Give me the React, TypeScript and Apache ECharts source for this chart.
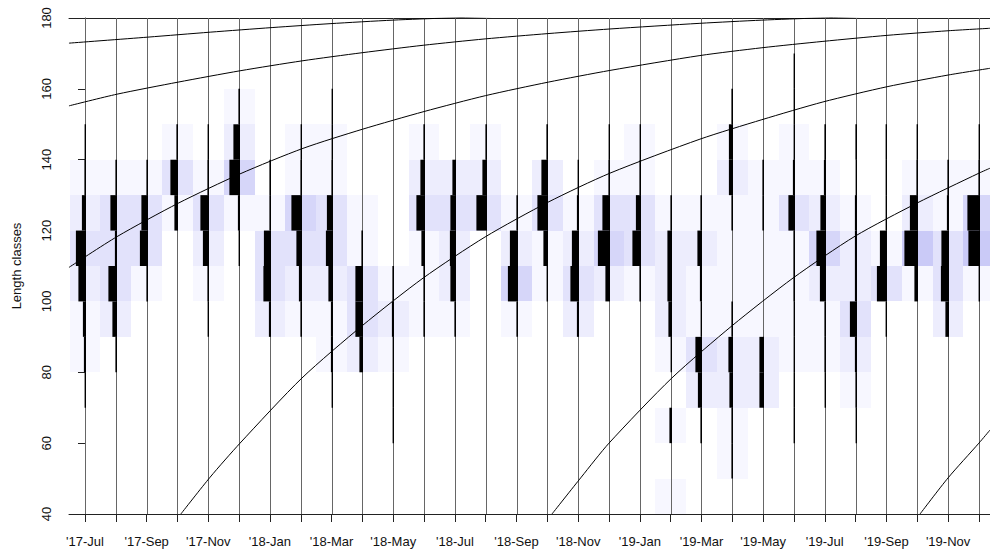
import React, { useEffect, useRef } from "react";
import * as echarts from "echarts";

// Sample months (one sample per month), labels shown every second month
const sampleMonths = [
  "'17-Jul", "'17-Aug", "'17-Sep", "'17-Oct", "'17-Nov", "'17-Dec",
  "'18-Jan", "'18-Feb", "'18-Mar", "'18-Apr", "'18-May", "'18-Jun",
  "'18-Jul", "'18-Aug", "'18-Sep", "'18-Oct", "'18-Nov", "'18-Dec",
  "'19-Jan", "'19-Feb", "'19-Mar", "'19-Apr", "'19-May", "'19-Jun",
  "'19-Jul", "'19-Aug", "'19-Sep", "'19-Oct", "'19-Nov", "'19-Dec",
];

// Lower bounds of the length classes (width 10)
const lengthClasses = [40, 50, 60, 70, 80, 90, 100, 110, 120, 130, 140, 150, 160, 170];

// Relative frequencies per sample (rows) and length class (columns) -> black bars
const freq = [
  [0, 0, 0, 0.7, 1.5, 2.5, 7, 9.5, 3.5, 1, 0.7, 0, 0, 0],
  [0, 0, 0, 0, 1, 4, 8, 1.5, 6, 1, 0, 0, 0, 0],
  [0, 0, 0, 0, 0, 0, 1, 7.5, 6, 1, 0, 0, 0, 0],
  [0, 0, 0, 0, 0, 0, 0, 0, 3, 7, 1, 0, 0, 0],
  [0, 0, 0, 0, 0, 0.5, 1, 5.5, 8, 1, 0.5, 0, 0, 0],
  [0, 0, 0, 0, 0, 0, 0, 0.5, 1.5, 10, 6, 1, 0, 0],
  [0, 0, 0, 0, 0, 1.5, 7, 6.5, 1, 1, 0, 0, 0, 0],
  [0, 0, 0, 0, 0, 1, 2.5, 5, 10, 1, 0.7, 0, 0, 0],
  [0, 0, 0, 0.5, 1.5, 1.5, 4, 6.5, 5.5, 1, 0.5, 0.5, 0, 0],
  [0, 0, 0, 0, 3, 7, 7, 1, 0, 0, 0, 0, 0, 0],
  [0, 0, 0.3, 0.5, 0.5, 1.5, 1, 0, 0, 0, 0, 0, 0, 0],
  [0, 0, 0, 0, 0, 1, 1, 3, 8, 4, 1, 0, 0, 0],
  [0, 0, 0, 0, 0, 1, 5, 5.5, 5, 3, 0, 0, 0, 0],
  [0, 0, 0, 0, 0, 0, 0, 0, 10, 4, 1, 0, 0, 0],
  [0, 0, 0, 0, 0, 1, 9.5, 7.5, 1, 0, 0, 0, 0, 0],
  [0, 0, 0, 0, 0, 0, 0.5, 4, 10, 6, 1, 0, 0, 0],
  [0, 0, 0, 0, 0, 1.5, 8, 6.5, 1.5, 0.5, 0, 0, 0, 0],
  [0, 0, 0, 0, 0, 0, 4, 11.5, 7, 1, 0.5, 0, 0, 0],
  [0, 0, 0, 0, 0, 0, 1, 8, 4.5, 1, 0.5, 0, 0, 0],
  [0, 0, 2, 0, 0.5, 3, 4, 4, 1, 0, 0, 0, 0, 0],
  [0, 0, 1, 3.5, 6, 0.5, 1.5, 4, 1, 0, 0, 0, 0, 0],
  [0, 1, 1, 3, 4, 1, 0, 0, 1, 3.5, 3.5, 1, 0, 0],
  [0, 0, 0, 4, 4, 0, 0, 0, 1, 1, 0, 0, 0, 0],
  [0, 0, 0.5, 0.5, 0.5, 0.5, 1, 1, 6, 1.5, 0.5, 0.5, 0.5, 0],
  [0, 0, 0, 0.5, 1, 1, 5.5, 9, 5, 1.5, 1, 0, 0, 0],
  [0, 0, 0.5, 1, 1.5, 6.5, 1.5, 1.5, 1.5, 0.5, 1, 0, 0, 0],
  [0, 0, 0, 0, 0, 0.5, 9.5, 6.5, 0.5, 0.5, 0.5, 0, 0, 0],
  [0, 0, 0, 0, 0, 0, 3, 13, 7.5, 1, 0.5, 0, 0, 0],
  [0, 0, 0, 0, 0, 3, 7.5, 7, 1.5, 1, 0, 0, 0, 0],
  [0, 0, 0, 0, 0, 0, 0.5, 11, 12, 1, 0.5, 0, 0, 0],
];

// Restructured scores (shading level 0..5) per sample and length class
const score = [
  [0, 0, 0, 0, 1, 1, 2, 3, 2, 1, 0, 0, 0, 0],
  [0, 0, 0, 0, 0, 2, 3, 3, 3, 1, 0, 0, 0, 0],
  [0, 0, 0, 0, 0, 0, 1, 3, 3, 1, 0, 0, 0, 0],
  [0, 0, 0, 0, 0, 0, 0, 0, 1, 3, 1, 0, 0, 0],
  [0, 0, 0, 0, 0, 0, 1, 2, 3, 1, 0, 0, 0, 0],
  [0, 0, 0, 0, 0, 0, 0, 0, 1, 4, 2, 1, 0, 0],
  [0, 0, 0, 0, 0, 2, 3, 3, 1, 0, 0, 0, 0, 0],
  [0, 0, 0, 0, 0, 1, 2, 3, 4, 1, 1, 0, 0, 0],
  [0, 0, 0, 0, 1, 1, 2, 3, 3, 1, 1, 0, 0, 0],
  [0, 0, 0, 0, 2, 3, 3, 1, 1, 0, 0, 0, 0, 0],
  [0, 0, 0, 0, 1, 2, 1, 0, 0, 0, 0, 0, 0, 0],
  [0, 0, 0, 0, 0, 1, 1, 1, 3, 2, 1, 0, 0, 0],
  [0, 0, 0, 0, 0, 1, 2, 2, 3, 2, 0, 0, 0, 0],
  [0, 0, 0, 0, 0, 0, 0, 0, 3, 2, 1, 0, 0, 0],
  [0, 0, 0, 0, 0, 1, 4, 2, 1, 0, 0, 0, 0, 0],
  [0, 0, 0, 0, 0, 0, 1, 1, 3, 2, 0, 0, 0, 0],
  [0, 0, 0, 0, 0, 2, 3, 2, 1, 0, 0, 0, 0, 0],
  [0, 0, 0, 0, 0, 0, 2, 4, 3, 1, 0, 0, 0, 0],
  [0, 0, 0, 0, 0, 0, 1, 3, 3, 1, 1, 0, 0, 0],
  [1, 0, 1, 0, 1, 2, 2, 2, 1, 0, 0, 0, 0, 0],
  [0, 0, 0, 2, 3, 1, 1, 2, 1, 0, 0, 0, 0, 0],
  [0, 1, 1, 2, 2, 1, 1, 1, 1, 2, 1, 0, 0, 0],
  [0, 0, 0, 2, 2, 1, 1, 1, 1, 1, 0, 0, 0, 0],
  [0, 0, 0, 0, 1, 1, 1, 1, 3, 1, 1, 0, 0, 0],
  [0, 0, 0, 0, 1, 1, 2, 4, 2, 1, 0, 0, 0, 0],
  [0, 0, 0, 1, 2, 3, 2, 2, 1, 0, 0, 0, 0, 0],
  [0, 0, 0, 0, 0, 0, 3, 1, 0, 0, 0, 0, 0, 0],
  [0, 0, 0, 0, 0, 0, 1, 5, 2, 1, 0, 0, 0, 0],
  [0, 0, 0, 0, 0, 2, 3, 3, 1, 1, 0, 0, 0, 0],
  [0, 0, 0, 0, 0, 0, 1, 5, 4, 1, 0, 0, 0, 0],
];

// Growth curves: [month index, length]
const cohortF = [
  [-0.52, 172.9], [2.04, 174.6], [4.06, 176.0], [6.07, 177.3], [7.95, 178.4],
  [9.99, 179.4], [11.74, 180.0], [13.5, 180.5],
];
const cohortE = [
  [-0.52, 155.2], [1.04, 158.5], [3.02, 161.9], [5.03, 165.1], [7.04, 167.9],
  [8.99, 170.2], [10.97, 172.3], [12.98, 174.1], [15.02, 175.6], [17.03, 176.9],
  [19.95, 178.5], [21.96, 179.4], [23.75, 180.0], [25.8, 180.6],
];
const cohortD = [
  [-0.52, 109.6], [1.04, 118.3], [3.02, 127.7], [5.03, 136], [7.07, 143.2],
  [9.0, 148.6], [11.0, 153.6], [13.0, 158.1], [15.03, 161.9], [17.03, 165.2],
  [19.95, 169.4], [21.96, 171.6], [23.94, 173.4], [26.02, 175.1], [28.0, 176.4],
  [29.36, 177.1],
];
const cohortA = [
  [3.11, 40], [4.06, 50.4], [5.03, 60], [7.04, 78.4], [9.0, 93.2], [10.97, 106.6],
  [12.98, 118.2], [15.02, 128], [17.03, 136.2], [19.95, 145.8], [21.96, 151.3],
  [23.94, 156.3], [26.02, 160.6], [28.0, 163.9], [29.36, 165.8],
];
const cohortB = [
  [15.15, 40], [16.1, 50.4], [17.0, 60], [19.04, 78.4], [21.0, 93.2], [22.97, 106.6],
  [24.98, 118.4], [27.0, 127.8], [29.0, 136.2], [29.36, 137.6],
];
const cohortC = [[27.09, 40], [28.0, 50.2], [29.0, 60], [29.36, 63.7]];

const shadeColors = ["#ffffff", "#f7f7ff", "#ededfd", "#e2e2fb", "#d6d6f9", "#cacaf7"];
const FONT = "'Liberation Sans', Arial, Helvetica, sans-serif";

export default function App() {
  const ref = useRef<HTMLDivElement>(null);

  useEffect(() => {
    if (!ref.current) return;
    const chart = echarts.init(ref.current, null, { renderer: "svg" });

    const shadeData: number[][] = [];
    const barData: number[][] = [];
    score.forEach((row, i) =>
      row.forEach((lvl, j) => {
        if (lvl > 0) shadeData.push([i, lengthClasses[j], lvl]);
      })
    );
    freq.forEach((row, i) =>
      row.forEach((f, j) => {
        if (f > 0) barData.push([i, lengthClasses[j], f]);
      })
    );
    const lineData = sampleMonths.map((_, i) => [i]);
    const xMin = -0.519;
    const xMax = 29.36;

    const curve = (data: number[][]) => ({
      type: "line",
      data,
      smooth: 0.25,
      symbol: "none",
      clip: true,
      silent: true,
      z: 5,
      lineStyle: { color: "#000", width: 1 },
    });

    const option: any = {
      animation: false,
      grid: { left: 69, right: 0, top: 18, bottom: 39, containLabel: false },
      xAxis: [
        {
          type: "value",
          min: xMin,
          max: xMax,
          axisLine: { show: true, onZero: false, lineStyle: { color: "#222", width: 1 } },
          axisTick: {
            show: true,
            customValues: sampleMonths.map((_, i) => i),
            length: 8,
            lineStyle: { color: "#222", width: 1 },
          },
          axisLabel: {
            customValues: sampleMonths.map((_, i) => i).filter((i) => i % 2 === 0),
            formatter: (v: number) => sampleMonths[Math.round(v)] ?? "",
            margin: 21,
            fontSize: 13,
            color: "#111",
            fontFamily: FONT,
          },
          splitLine: { show: false },
        },
        {
          type: "value",
          position: "top",
          min: xMin,
          max: xMax,
          axisLine: { show: true, onZero: false, lineStyle: { color: "#222", width: 1 } },
          axisTick: { show: false },
          axisLabel: { show: false },
          splitLine: { show: false },
        },
      ],
      yAxis: {
        type: "value",
        min: 40,
        max: 180,
        interval: 20,
        name: "Length classes",
        nameLocation: "middle",
        nameGap: 46,
        nameTextStyle: { fontSize: 13, color: "#111", fontFamily: FONT },
        axisLine: { show: true, lineStyle: { color: "#222", width: 1 } },
        axisTick: { show: true, length: 7, lineStyle: { color: "#222", width: 1 } },
        axisLabel: { rotate: 90, margin: 16, fontSize: 13, color: "#111", fontFamily: FONT },
        splitLine: { show: false },
      },
      series: [
        {
          type: "custom",
          silent: true,
          z: 1,
          data: shadeData,
          encode: { x: 0, y: 1 },
          renderItem: (params: any, api: any) => {
            const m = api.value(0);
            const L = api.value(1);
            const lvl = api.value(2);
            const p0 = api.coord([m - 0.5, L + 10]);
            const p1 = api.coord([m + 0.5, L]);
            const x0 = Math.round(p0[0]);
            const x1 = Math.round(p1[0]);
            const y0 = Math.round(p0[1]);
            const y1 = Math.round(p1[1]);
            const cs = params.coordSys;
            const shape = echarts.graphic.clipRectByRect(
              { x: x0, y: y0, width: x1 - x0, height: y1 - y0 },
              { x: cs.x, y: cs.y, width: cs.width, height: cs.height }
            );
            if (!shape) return null;
            return { type: "rect", shape, style: { fill: shadeColors[lvl], stroke: null } };
          },
        },
        {
          type: "custom",
          silent: true,
          z: 2,
          data: lineData,
          encode: { x: 0 },
          renderItem: (_params: any, api: any) => {
            const m = api.value(0);
            const top = api.coord([m, 180]);
            const bot = api.coord([m, 40]);
            const x = Math.round(top[0]) + 0.5;
            return {
              type: "line",
              shape: { x1: x, y1: top[1], x2: x, y2: bot[1] },
              style: { stroke: "#666", lineWidth: 1 },
            };
          },
        },
        {
          type: "custom",
          silent: true,
          z: 3,
          data: barData,
          encode: { x: 0, y: 1 },
          renderItem: (_params: any, api: any) => {
            const m = api.value(0);
            const L = api.value(1);
            const f = api.value(2);
            const pTop = api.coord([m, L + 10]);
            const pBot = api.coord([m, L]);
            const xr = Math.round(pTop[0]) + 1;
            const w = Math.max(f, 0.8) + 0.6;
            return {
              type: "rect",
              shape: { x: xr - w, y: pTop[1], width: w, height: pBot[1] - pTop[1] },
              style: { fill: "#000", stroke: null },
            };
          },
        },
        curve(cohortF),
        curve(cohortE),
        curve(cohortD),
        curve(cohortA),
        curve(cohortB),
        curve(cohortC),
      ],
    };

    chart.setOption(option);
    return () => chart.dispose();
  }, []);

  return (
    <div
      ref={ref}
      style={{ position: "absolute", left: 0, top: 0, width: 990, height: 553, background: "#fff" }}
    />
  );
}
